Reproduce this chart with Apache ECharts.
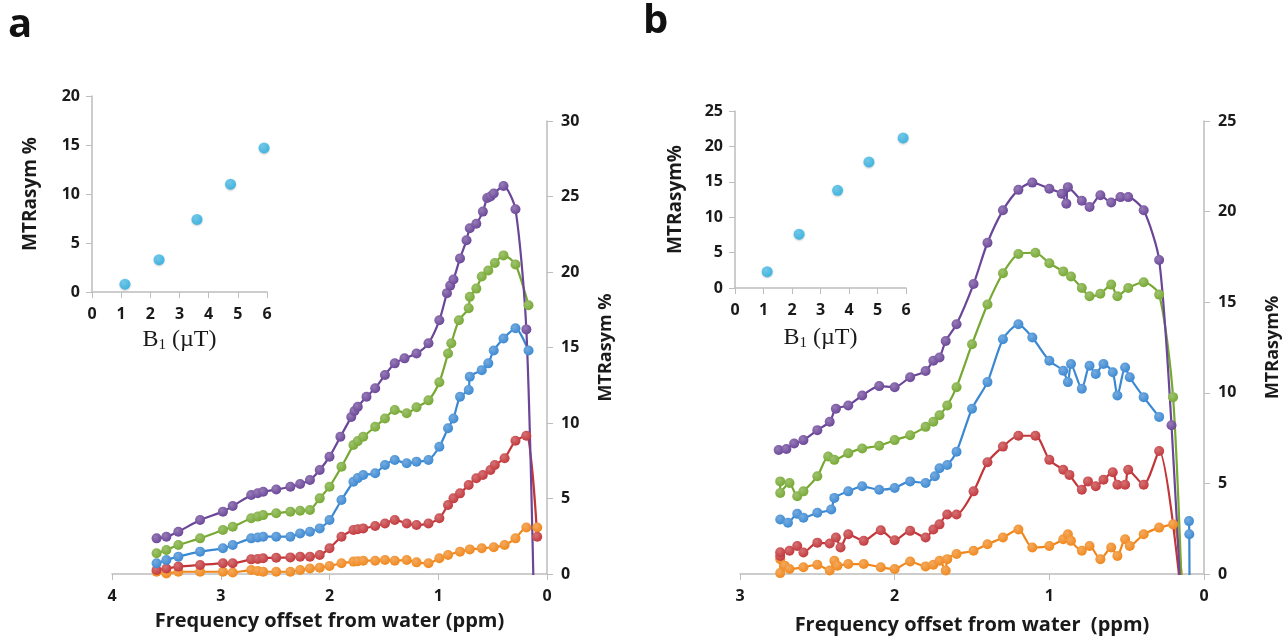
<!DOCTYPE html>
<html>
<head>
<meta charset="utf-8">
<script src="https://cdn.jsdelivr.net/npm/echarts@6/dist/echarts.min.js"></script>
<style>
  html, body { margin: 0; padding: 0; background: #fff; }
  #chart { width: 1285px; height: 640px; }
</style>
</head>
<body>
<div id="chart"></div>
<script>
// panel a: [ppm, MTRasym %]
const aPurple = [[3.59,2.36],[3.50,2.47],[3.39,2.80],[3.19,3.58],[2.98,4.13],[2.89,4.5],[2.72,5.23],[2.66,5.35],[2.61,5.45],[2.49,5.6],[2.36,5.78],[2.27,5.96],[2.18,6.22],[2.09,6.89],[2.0,7.77],[1.90,9.09],[1.80,10.4],[1.77,10.8],[1.74,11.08],[1.66,11.74],[1.58,12.3],[1.49,13.18],[1.40,13.95],[1.31,14.28],[1.20,14.6],[1.09,15.28],[0.99,16.8],[0.92,18.6],[0.89,19.1],[0.86,19.5],[0.80,20.9],[0.74,22.1],[0.71,22.9],[0.65,23.2],[0.59,24.0],[0.55,24.9],[0.52,25.0],[0.49,25.2],[0.40,25.7],[0.29,24.15],[0.19,16.2],[0.12,-2]];
const aGreen = [[3.59,1.37],[3.50,1.59],[3.39,1.92],[3.19,2.36],[2.98,2.91],[2.89,3.13],[2.72,3.69],[2.66,3.8],[2.61,3.9],[2.49,4.02],[2.36,4.13],[2.27,4.19],[2.18,4.24],[2.09,5.01],[2.0,5.78],[1.89,7.1],[1.78,8.54],[1.74,8.8],[1.69,9.09],[1.58,9.75],[1.49,10.3],[1.40,10.86],[1.29,10.64],[1.20,11.04],[1.09,11.5],[0.99,12.7],[0.91,14.6],[0.88,15.28],[0.81,16.8],[0.72,17.6],[0.71,18.36],[0.65,18.9],[0.60,19.7],[0.54,20.1],[0.48,20.6],[0.40,21.1],[0.29,20.5],[0.17,17.8]];
const aBlue = [[3.59,0.71],[3.50,0.93],[3.39,1.15],[3.19,1.48],[2.98,1.7],[2.89,1.92],[2.72,2.36],[2.66,2.42],[2.61,2.47],[2.49,2.47],[2.36,2.47],[2.27,2.69],[2.18,2.8],[2.09,3.02],[2.0,3.58],[1.89,4.9],[1.78,6.11],[1.74,6.35],[1.69,6.56],[1.58,6.67],[1.49,7.22],[1.40,7.55],[1.29,7.33],[1.20,7.44],[1.09,7.55],[0.99,8.43],[0.91,9.65],[0.86,10.3],[0.80,11.74],[0.72,12.19],[0.71,13.07],[0.60,13.5],[0.54,13.95],[0.49,14.8],[0.40,15.6],[0.29,16.27],[0.17,14.8]];
const aRed = [[3.59,0.26],[3.50,0.37],[3.39,0.49],[3.19,0.6],[2.98,0.71],[2.89,0.71],[2.72,0.97],[2.66,1.0],[2.61,1.04],[2.49,1.08],[2.36,1.1],[2.27,1.15],[2.18,1.15],[2.09,1.26],[2.0,1.7],[1.89,2.47],[1.78,2.91],[1.74,2.96],[1.69,3.02],[1.58,3.18],[1.49,3.35],[1.40,3.58],[1.29,3.35],[1.20,3.24],[1.09,3.35],[0.99,3.69],[0.91,4.57],[0.86,5.01],[0.80,5.34],[0.72,5.89],[0.65,6.34],[0.59,6.56],[0.52,6.89],[0.48,7.22],[0.39,7.66],[0.29,8.83],[0.19,9.16],[0.09,2.47]];
const aOrange = [[3.59,0.15],[3.50,0.04],[3.39,0.15],[3.19,0.15],[2.98,0.15],[2.89,0.1],[2.72,0.26],[2.66,0.2],[2.61,0.15],[2.49,0.15],[2.36,0.15],[2.27,0.26],[2.18,0.37],[2.09,0.42],[2.0,0.53],[1.89,0.71],[1.78,0.82],[1.74,0.85],[1.69,0.88],[1.58,0.88],[1.49,0.93],[1.40,0.88],[1.29,0.93],[1.20,0.77],[1.09,0.71],[0.99,1.04],[0.91,1.26],[0.80,1.48],[0.71,1.63],[0.60,1.7],[0.49,1.77],[0.39,1.92],[0.29,2.36],[0.19,3.08],[0.09,3.08]];

// panel b
const bPurple = [[2.75,6.84],[2.70,6.9],[2.65,7.2],[2.59,7.39],[2.50,7.94],[2.42,8.4],[2.38,9.12],[2.30,9.3],[2.21,9.85],[2.10,10.37],[2.00,10.31],[1.90,10.86],[1.80,11.2],[1.75,11.77],[1.71,11.95],[1.67,12.86],[1.60,13.78],[1.49,16.0],[1.40,18.28],[1.30,20.07],[1.20,21.2],[1.11,21.6],[1.00,21.26],[0.92,20.99],[0.89,20.44],[0.88,21.35],[0.79,20.6],[0.74,20.25],[0.67,20.9],[0.60,20.5],[0.54,20.8],[0.49,20.8],[0.39,20.07],[0.29,17.33],[0.21,8.21],[0.14,-3]];
const bGreen = [[2.74,5.11],[2.74,4.47],[2.68,5.02],[2.63,4.29],[2.59,4.56],[2.50,5.39],[2.43,6.48],[2.39,6.3],[2.30,6.66],[2.21,6.93],[2.10,7.08],[2.00,7.39],[1.90,7.66],[1.80,8.12],[1.75,8.4],[1.71,8.76],[1.66,9.3],[1.60,10.31],[1.50,12.68],[1.40,14.87],[1.30,16.6],[1.20,17.66],[1.09,17.73],[1.00,17.15],[0.91,16.7],[0.86,16.42],[0.79,15.78],[0.74,15.33],[0.67,15.47],[0.60,15.97],[0.56,15.33],[0.49,15.78],[0.39,16.1],[0.29,15.42],[0.20,9.76],[0.135,-3]];
const bBlue = [[2.74,3.01],[2.69,2.83],[2.63,3.32],[2.59,3.1],[2.50,3.38],[2.41,3.56],[2.39,4.2],[2.30,4.56],[2.21,4.84],[2.10,4.65],[2.00,4.75],[1.90,5.11],[1.80,5.02],[1.74,5.39],[1.71,5.84],[1.66,6.02],[1.60,6.75],[1.50,9.12],[1.40,10.59],[1.30,12.96],[1.20,13.78],[1.11,13.05],[1.00,11.77],[0.91,11.22],[0.88,10.59],[0.86,11.59],[0.79,10.22],[0.74,11.49],[0.70,11.04],[0.65,11.59],[0.59,11.13],[0.56,9.85],[0.51,11.4],[0.48,10.86],[0.39,9.76],[0.29,8.67],[0.2,null],[0.097,2.92],[0.095,2.19],[0.093,-2]];
const bRed = [[2.74,1.0],[2.74,1.2],[2.68,1.28],[2.63,1.55],[2.59,1.19],[2.50,1.73],[2.42,1.68],[2.38,2.01],[2.35,1.46],[2.30,2.19],[2.20,1.83],[2.09,2.41],[2.00,1.86],[1.90,2.38],[1.80,2.01],[1.75,2.46],[1.71,2.74],[1.66,3.28],[1.60,3.28],[1.49,4.56],[1.40,6.17],[1.30,7.03],[1.20,7.63],[1.09,7.63],[1.00,6.3],[0.91,5.75],[0.87,5.47],[0.79,4.65],[0.75,5.11],[0.70,4.84],[0.65,5.2],[0.59,5.62],[0.56,4.93],[0.51,4.93],[0.49,5.75],[0.39,4.93],[0.29,6.79],[0.15,-1]];
const bOrange = [[2.74,0.82],[2.74,0.05],[2.71,0.46],[2.68,0.28],[2.59,0.37],[2.50,0.51],[2.42,0.19],[2.39,0.73],[2.37,0.46],[2.30,0.55],[2.20,0.55],[2.09,0.37],[2.00,0.28],[1.90,0.69],[1.80,0.42],[1.75,0.51],[1.71,0.73],[1.67,0.19],[1.66,0.82],[1.60,1.1],[1.49,1.28],[1.40,1.64],[1.30,2.01],[1.20,2.46],[1.11,1.46],[1.00,1.55],[0.91,1.92],[0.88,2.19],[0.86,1.83],[0.79,1.28],[0.74,1.55],[0.67,0.82],[0.60,1.46],[0.56,1.0],[0.51,1.92],[0.48,1.55],[0.39,2.19],[0.29,2.56],[0.20,2.74],[0.135,-1]];

// insets: B1 (uT) vs MTRasym %
const aB1 = [1.13, 2.3, 3.6, 4.75, 5.9];
const aInsetVals = [0.8, 3.3, 7.4, 11.0, 14.7];
const bB1 = [1.13, 2.25, 3.6, 4.7, 5.9];
const bInsetVals = [2.3, 7.6, 13.8, 17.8, 21.2];

const colors = {
    purple: '#6a4598',
    green: '#76a832',
    blue: '#3a88d2',
    red: '#c2363a',
    orange: '#f0861a',
    cyan: '#18ace3'
};

function ball(c) {
    return {
        type: 'radial', x: 0.38, y: 0.35, r: 0.7,
        colorStops: [{ offset: 0, color: echarts.color.lift(c, 0.3) }, { offset: 1, color: c }]
    };
}

const font = '"Open Sans", Lato, sans-serif';
const axisGrey = { lineStyle: { color: '#bdbdbd', width: 1.5 } };
const tickLabel = { color: '#1a1a1a', fontWeight: 'bold', fontSize: 16, fontFamily: font };

function lineSeries(data, color, idx) {
    return {
        type: 'line',
        xAxisIndex: idx, yAxisIndex: idx,
        data: data,
        smooth: 0.25,
        clip: true,
        symbol: 'circle',
        symbolSize: 10,
        lineStyle: { color: color, width: 2.2 },
        itemStyle: { color: ball(color) },
        connectNulls: false,
        animation: false
    };
}

function scatterSeries(xs, ys, idx) {
    return {
        type: 'scatter',
        xAxisIndex: idx, yAxisIndex: idx,
        data: xs.map((x, i) => [x, ys[i]]),
        symbolSize: 11,
        itemStyle: { color: ball(colors.cyan), shadowColor: 'rgba(0,0,0,0.25)', shadowBlur: 2, shadowOffsetY: 1 },
        animation: false
    };
}

function mainX(gridIndex, max, gap, name) {
    return {
        type: 'value', gridIndex: gridIndex, inverse: true, min: 0, max: max, interval: 1,
        axisLine: axisGrey, axisTick: { show: true, length: 6, lineStyle: { color: '#bdbdbd' } },
        splitLine: { show: false },
        axisLabel: Object.assign({ margin: 14 }, tickLabel),
        name: name, nameLocation: 'middle', nameGap: gap,
        nameTextStyle: { color: '#1a1a1a', fontWeight: 'bold', fontSize: 20, fontFamily: font }
    };
}

function insetX(gridIndex, gap) {
    return {
        type: 'value', gridIndex: gridIndex, min: 0, max: 6, interval: 1,
        axisLine: axisGrey, axisTick: { show: true, length: 6, lineStyle: { color: '#bdbdbd' } },
        splitLine: { show: false },
        axisLabel: Object.assign({ margin: 14 }, tickLabel),
        name: 'B{s|1} (µT)', nameLocation: 'middle', nameGap: gap,
        nameTextStyle: {
            color: '#1a1a1a', fontSize: 24, fontFamily: '"Liberation Serif", serif',
            rich: { s: { fontSize: 15, fontFamily: '"Liberation Serif", serif', color: '#1a1a1a', padding: [12, 0, 0, 0] } }
        }
    };
}

function yAxis(gridIndex, pos, max, gap, name, size) {
    return {
        type: 'value', gridIndex: gridIndex, position: pos, min: 0, max: max, interval: 5,
        axisLine: Object.assign({ show: true }, axisGrey),
        axisTick: { show: true, length: 6, lineStyle: { color: '#bdbdbd' } },
        splitLine: { show: false },
        axisLabel: Object.assign({ margin: pos === 'right' ? 14 : 12 }, tickLabel),
        name: name, nameLocation: 'middle', nameGap: gap, nameRotate: 90,
        nameTextStyle: { color: '#1a1a1a', fontWeight: 'bold', fontSize: size, fontFamily: font }
    };
}

const chart = echarts.init(document.getElementById('chart'));

const option = {
    backgroundColor: '#fff',
    grid: [
        { left: 112, top: 121, width: 435, height: 453 },
        { left: 92, top: 96, width: 175, height: 196 },
        { left: 740, top: 121, width: 464, height: 456 },
        { left: 735, top: 111, width: 171, height: 177 }
    ],
    xAxis: [
        mainX(0, 4, 37, 'Frequency offset from water (ppm)'),
        insetX(1, 34),
        mainX(2, 3, 41, 'Frequency offset from water  (ppm)'),
        insetX(3, 36)
    ],
    yAxis: [
        yAxis(0, 'right', 30, 50, 'MTRasym %', 18),
        yAxis(1, 'left', 20, 52, 'MTRasym %', 19),
        yAxis(2, 'right', 25, 60, 'MTRasym%', 18),
        yAxis(3, 'left', 25, 50, 'MTRasym%', 19)
    ],
    graphic: [
        { type: 'text', left: 8, top: 6, style: { text: 'a', font: 'bold 40px ' + font, fill: '#111' } },
        { type: 'text', left: 643, top: 2, style: { text: 'b', font: 'bold 40px ' + font, fill: '#111' } }
    ],
    series: [
        lineSeries(aOrange, colors.orange, 0),
        lineSeries(aRed, colors.red, 0),
        lineSeries(aBlue, colors.blue, 0),
        lineSeries(aGreen, colors.green, 0),
        lineSeries(aPurple, colors.purple, 0),
        scatterSeries(aB1, aInsetVals, 1),
        lineSeries(bOrange, colors.orange, 2),
        lineSeries(bRed, colors.red, 2),
        lineSeries(bBlue, colors.blue, 2),
        lineSeries(bGreen, colors.green, 2),
        lineSeries(bPurple, colors.purple, 2),
        scatterSeries(bB1, bInsetVals, 3)
    ]
};

chart.setOption(option);
</script>
</body>
</html>
